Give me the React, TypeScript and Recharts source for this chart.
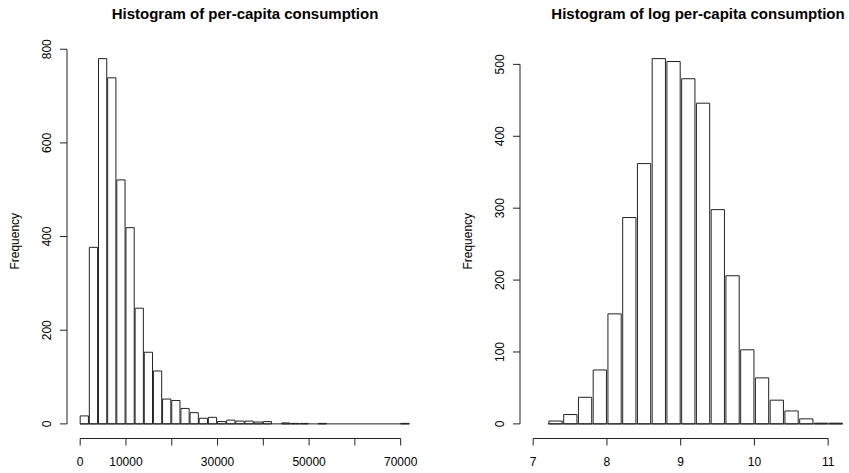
import { BarChart, Bar, XAxis, YAxis, ReferenceLine, Label } from "recharts";

// per-capita consumption, bins of 2000
const levelBinStarts = [
  0, 2000, 4000, 6000, 8000, 10000, 12000, 14000, 16000, 18000, 20000, 22000,
  24000, 26000, 28000, 30000, 32000, 34000, 36000, 38000, 40000, 42000, 44000,
  46000, 48000, 50000, 52000, 54000, 56000, 58000, 60000, 62000, 64000, 66000,
  68000, 70000,
];
const levelCounts = [
  17, 377, 780, 739, 521, 419, 247, 153, 113, 53, 50, 33, 24, 12, 14, 5, 8, 6,
  6, 4, 5, 0, 2, 1, 1, 0, 1, 0, 0, 0, 0, 0, 0, 0, 0, 1,
];
const levelXTicks = [0, 10000, 20000, 30000, 40000, 50000, 60000, 70000];
const levelXLabels = [0, 10000, 30000, 50000, 70000];
const levelYTicks = [0, 200, 400, 600, 800];

// log per-capita consumption, bins of 0.2
const logBinStarts = [
  7.2, 7.4, 7.6, 7.8, 8.0, 8.2, 8.4, 8.6, 8.8, 9.0, 9.2, 9.4, 9.6, 9.8, 10.0,
  10.2, 10.4, 10.6, 10.8, 11.0,
];
const logCounts = [
  4, 13, 37, 75, 153, 287, 362, 508, 504, 480, 446, 298, 206, 103, 64, 33, 18,
  7, 1, 1,
];
const logXTicks = [7, 8, 9, 10, 11];
const logYTicks = [0, 100, 200, 300, 400, 500];

const PANEL_W = 453;
const PANEL_H = 473;
const Y_AXIS_W = 67;
const X_AXIS_H = 34.5;
const MARGIN = { top: 44, right: 30, bottom: 0, left: 0 };
const PLOT_W = PANEL_W - Y_AXIS_W - MARGIN.left - MARGIN.right;
const INK = "#222";
const FONT = "'Liberation Sans', Arial, Helvetica, sans-serif";

interface HistProps {
  title: string;
  left: number;
  binStarts: number[];
  counts: number[];
  binWidth: number;
  xlim: [number, number];
  xTicks: number[];
  xLabels?: number[];
  yTicks: number[];
}

// R extends the axis ranges by 4% on each side
function extend([a, b]: [number, number]): [number, number] {
  const d = (b - a) * 0.04;
  return [a - d, b + d];
}

function Histogram({
  title,
  left,
  binStarts,
  counts,
  binWidth,
  xlim,
  xTicks,
  xLabels,
  yTicks,
}: HistProps) {
  const data = binStarts.map((start, i) => ({
    mid: start + binWidth / 2,
    count: counts[i],
  }));
  const xDomain = extend(xlim);
  const yDomain = extend([0, Math.max(...counts)]);
  const binEnd = binStarts[binStarts.length - 1] + binWidth;
  const barPx = (binWidth * PLOT_W) / (xDomain[1] - xDomain[0]);

  return (
    <div style={{ position: "absolute", left, top: 0, width: PANEL_W, height: PANEL_H }}>
      <div
        style={{
          position: "absolute",
          left: MARGIN.left + Y_AXIS_W,
          width: PLOT_W,
          top: 5,
          height: 18,
          lineHeight: "18px",
          textAlign: "center",
          fontSize: 15,
          fontWeight: "bold",
          whiteSpace: "nowrap",
        }}
      >
        {title}
      </div>
      <BarChart
        width={PANEL_W}
        height={PANEL_H}
        data={data}
        margin={MARGIN}
        barGap={0}
        barSize={barPx}
      >
        <XAxis
          dataKey="mid"
          type="number"
          domain={xDomain}
          allowDataOverflow
          ticks={xTicks}
          interval={0}
          height={X_AXIS_H}
          axisLine={false}
          tickSize={7}
          tickMargin={12}
          tickLine={{ stroke: INK }}
          tick={{ fill: "#000", fontSize: 12 }}
          tickFormatter={(v: number) =>
            !xLabels || xLabels.includes(v) ? String(v) : ""
          }
        />
        <YAxis
          type="number"
          domain={yDomain}
          allowDataOverflow
          ticks={yTicks}
          interval={0}
          width={Y_AXIS_W}
          axisLine={false}
          tickSize={7}
          tickMargin={9}
          tickLine={{ stroke: INK }}
          tick={(p: any) => (
            <text
              x={p.x}
              y={p.y}
              transform={`rotate(-90 ${p.x} ${p.y})`}
              textAnchor="middle"
              fontSize={12}
              fill="#000"
            >
              {p.payload.value}
            </text>
          )}
        >
          <Label
            content={(p: any) => {
              const vb = p.viewBox;
              const cx = vb.x + 19;
              const cy = vb.y + vb.height / 2;
              return (
                <text
                  x={cx}
                  y={cy}
                  transform={`rotate(-90 ${cx} ${cy})`}
                  textAnchor="middle"
                  fontSize={12}
                  fill="#000"
                >
                  Frequency
                </text>
              );
            }}
          />
        </YAxis>
        <Bar
          dataKey="count"
          fill="#fff"
          stroke={INK}
          strokeWidth={1}
          isAnimationActive={false}
        />
        {/* zero-count bins still show as a line at the base */}
        <ReferenceLine
          segment={[
            { x: binStarts[0], y: 0 },
            { x: binEnd, y: 0 },
          ]}
          stroke={INK}
          ifOverflow="visible"
        />
        {/* axis lines only span the tick range, like base R */}
        <ReferenceLine
          segment={[
            { x: xTicks[0], y: yDomain[0] },
            { x: xTicks[xTicks.length - 1], y: yDomain[0] },
          ]}
          stroke={INK}
          ifOverflow="visible"
        />
        <ReferenceLine
          segment={[
            { x: xDomain[0], y: yTicks[0] },
            { x: xDomain[0], y: yTicks[yTicks.length - 1] },
          ]}
          stroke={INK}
          ifOverflow="visible"
        />
      </BarChart>
    </div>
  );
}

export default function App() {
  return (
    <div
      style={{
        position: "absolute",
        left: 0,
        top: 0,
        width: 849,
        height: 473,
        overflow: "hidden",
        background: "#fff",
        fontFamily: FONT,
      }}
    >
      <Histogram
        title="Histogram of per-capita consumption"
        left={0}
        binStarts={levelBinStarts}
        counts={levelCounts}
        binWidth={2000}
        xlim={[0, 72000]}
        xTicks={levelXTicks}
        xLabels={levelXLabels}
        yTicks={levelYTicks}
      />
      <Histogram
        title="Histogram of log per-capita consumption"
        left={PANEL_W}
        binStarts={logBinStarts}
        counts={logCounts}
        binWidth={0.2}
        xlim={[7.0, 11.47]}
        xTicks={logXTicks}
        yTicks={logYTicks}
      />
    </div>
  );
}
